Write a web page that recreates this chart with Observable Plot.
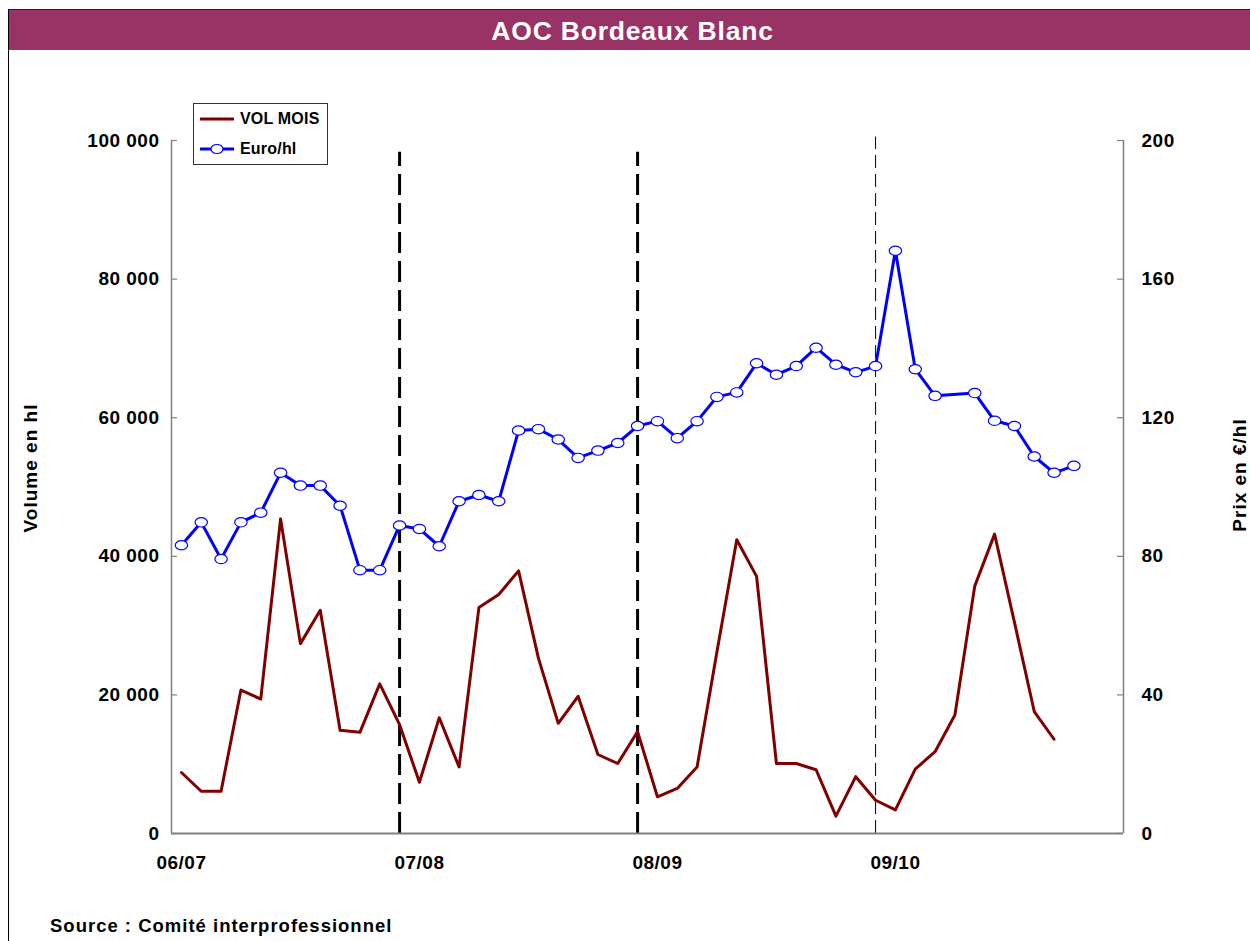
<!DOCTYPE html>
<html>
<head>
<meta charset="utf-8">
<script src="https://cdn.jsdelivr.net/npm/d3@7"></script>
<script src="https://cdn.jsdelivr.net/npm/@observablehq/plot@0.6"></script>
<style>
  html, body { margin: 0; padding: 0; background: #fff; }
  body { width: 1250px; height: 941px; overflow: hidden; position: relative;
         font-family: "Liberation Sans", Arial, sans-serif; font-weight: bold; color: #000; }
  #chart { position: absolute; left: 0; top: 0; }
  #frame { position: absolute; left: 8px; top: 9px; width: 1250px; height: 940px;
           border-left: 1.5px solid #000; border-top: 1.5px solid #222; pointer-events: none; }
  #title { position: absolute; left: 9px; top: 10px; width: 1241px; height: 40px; background: #993366;
           color: #fff; font-size: 26.5px; letter-spacing: 0.8px; text-align: center; line-height: 42px;
           padding-left: 6px; box-sizing: border-box; }
  .ytitle { position: absolute; white-space: nowrap; font-size: 19px; letter-spacing: 1px;
            transform: translate(-50%, -50%) rotate(-90deg); }
  #legend { position: absolute; left: 193px; top: 103px; width: 135px; height: 62px; background: #fff;
            border: 1px solid #333; box-sizing: border-box; }
  .item { position: absolute; left: 4px; height: 20px; display: flex; align-items: center;
          font-size: 16px; letter-spacing: 0.2px; }
  .item svg { margin-right: 4px; }
  #source { position: absolute; left: 50px; top: 916px; font-size: 18.5px; letter-spacing: 1px; line-height: 20px; }
</style>
</head>
<body>
<div id="chart"></div>
<div id="frame"></div>
<div id="title">AOC Bordeaux Blanc</div>
<div class="ytitle" style="left:31px; top:468px;">Volume en hl</div>
<div class="ytitle" style="left:1240px; top:475px;">Prix en €/hl</div>
<div id="legend">
  <div class="item" style="top:5px;">
    <svg width="38" height="12"><line x1="2" y1="6" x2="36" y2="6" stroke="#800000" stroke-width="3"/></svg>VOL MOIS
  </div>
  <div class="item" style="top:35px;">
    <svg width="38" height="12"><line x1="2" y1="6" x2="36" y2="6" stroke="#0000ff" stroke-width="3"/><ellipse cx="19" cy="6" rx="6" ry="4.5" fill="#fff" stroke="#0000ff" stroke-width="1.2"/></svg>Euro/hl
  </div>
</div>
<div id="source">Source : Comité interprofessionnel</div>
<script>
// ---- Data (monthly, starting with the 06/07 campaign) ----
const volMois = [8800, 6100, 6100, 20700, 19400, 45400, 27400, 32200, 14900, 14600, 21600, 15700,
                 7400, 16700, 9600, 32600, 34500, 37900, 25300, 15900, 19800, 11400, 10100, 14700,
                 5300, 6500, 9600, 26200, 42400, 37100, 10100, 10100, 9200, 2500, 8200, 4800,
                 3400, 9300, 11800, 17100, 35700, 43200, 30500, 17600, 13600];
const euroHl = [83.2, 89.8, 79.2, 89.8, 92.6, 104.1, 100.4, 100.4, 94.6, 76.0, 76.0, 88.9,
                87.9, 82.9, 95.9, 97.7, 95.9, 116.3, 116.7, 113.7, 108.4, 110.5, 112.7, 117.6,
                119.0, 114.1, 119.0, 126.0, 127.3, 135.7, 132.4, 134.9, 140.2, 135.3, 133.1, 134.9,
                168.2, 134.0, 126.3, null, 127.1, 119.1, 117.6, 108.8, 104.1, 106.1];
const periodLabels = ["06/07", "07/08", "08/09", "09/10"];
const periodStarts = [0, 12, 24, 36];
const yearBreaks = [11, 23, 35];
const volTicks = [0, 20000, 40000, 60000, 80000, 100000];
const priceTicks = [0, 40, 80, 120, 160, 200];

// price axis maps 0–200 €/hl onto 0–100 000 hl
const k = 100000 / 200;

const volData = volMois.map((v, i) => ({i, v}));
const priceData = euroHl.map((p, i) => ({i, p})).filter(d => d.p != null);

const ellipse = {
  draw(ctx, size) {
    const rx = Math.sqrt(size / Math.PI), ry = rx * 0.75, c = 0.5523;
    ctx.moveTo(rx, 0);
    ctx.bezierCurveTo(rx, c * ry, c * rx, ry, 0, ry);
    ctx.bezierCurveTo(-c * rx, ry, -rx, c * ry, -rx, 0);
    ctx.bezierCurveTo(-rx, -c * ry, -c * rx, -ry, 0, -ry);
    ctx.bezierCurveTo(c * rx, -ry, rx, -c * ry, rx, 0);
    ctx.closePath();
  }
};

const fmt = d => d3.format(",")(d).replace(/,/g, " ");

const chart = Plot.plot({
  width: 1250,
  height: 941,
  marginLeft: 171,
  marginRight: 127,
  marginTop: 140,
  marginBottom: 108,
  style: {fontFamily: "'Liberation Sans', Arial, sans-serif", fontSize: "19px", fontWeight: "bold",
          letterSpacing: "0.5px", color: "#000", background: "transparent"},
  x: {domain: [-0.5, 47.5]},
  y: {domain: [0, 100000]},
  marks: [
    // axis frame lines
    Plot.ruleX([-0.5, 47.5], {y1: 0, y2: 100000, stroke: "#808080", strokeWidth: 1.5}),
    Plot.ruleY(volTicks, {x1: -0.5, x2: -0.2, stroke: "#808080", strokeWidth: 1.2}),
    Plot.ruleY(volTicks, {x1: 47.2, x2: 47.5, stroke: "#808080", strokeWidth: 1.2}),
    // campaign separators
    Plot.ruleX(yearBreaks.slice(0, 2), {y1: 0, y2: 98300, stroke: "#000", strokeWidth: 3, strokeDasharray: "21,8"}),
    Plot.ruleX(yearBreaks.slice(2), {y1: 0, y2: 100500, stroke: "#000", strokeWidth: 1, strokeDasharray: "13,6"}),
    Plot.ruleY([0], {x1: -0.5, x2: 47.5, stroke: "#808080", strokeWidth: 2}),
    // series
    Plot.line(volData, {x: "i", y: "v", stroke: "#800000", strokeWidth: 3}),
    Plot.line(priceData, {x: "i", y: d => d.p * k, stroke: "#0000ff", strokeWidth: 3}),
    Plot.dot(priceData, {x: "i", y: d => d.p * k, symbol: ellipse, r: 6.2, fill: "#fff", stroke: "#0000ff", strokeWidth: 1.2}),
    // axes
    Plot.axisY(volTicks, {anchor: "left", tickSize: 0, tickPadding: 12, tickFormat: fmt, label: null}),
    Plot.axisY(priceTicks.map(p => p * k), {anchor: "right", tickSize: 0, tickPadding: 18,
               tickFormat: d => String(d / k), label: null}),
    Plot.axisX(periodStarts, {anchor: "bottom", tickSize: 0, tickPadding: 22,
               tickFormat: d => periodLabels[periodStarts.indexOf(d)], label: null})
  ]
});
document.getElementById("chart").append(chart);
</script>
</body>
</html>
